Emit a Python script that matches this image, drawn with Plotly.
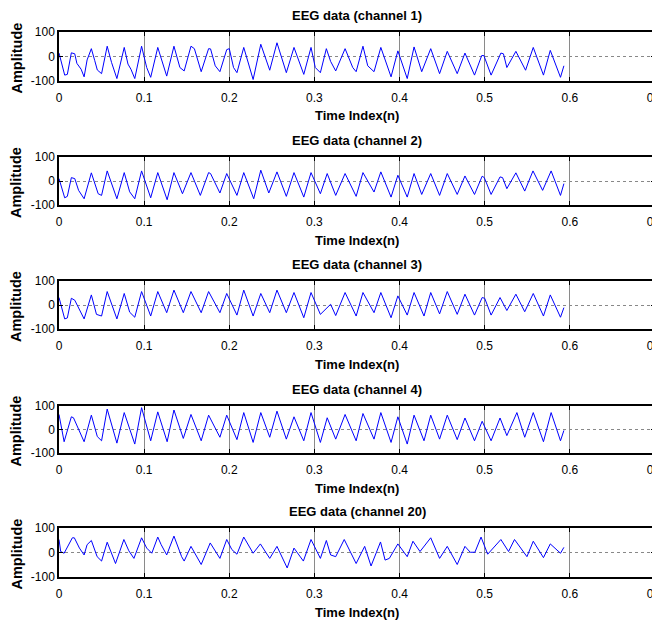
import plotly.graph_objects as go
from plotly.subplots import make_subplots

# ---------------- data ----------------
channel_names = ["EEG data (channel 1)", "EEG data (channel 2)", "EEG data (channel 3)",
                 "EEG data (channel 4)", "EEG data (channel 20)"]

x_ticks = [0, 0.1, 0.2, 0.3, 0.4, 0.5, 0.6, 0.7]
x_tick_labels = ["0", "0.1", "0.2", "0.3", "0.4", "0.5", "0.6", "0.7"]
y_ticks = [-100, 0, 100]
y_tick_labels = ["-100", "0", "100"]

ch1_t = [0, 0.0067, 0.0098, 0.0145, 0.0185, 0.021, 0.026, 0.0295, 0.033, 0.038, 0.042, 0.045, 0.05,
         0.0566, 0.0617, 0.068, 0.0766, 0.081, 0.0845, 0.089, 0.097, 0.103, 0.1077, 0.116, 0.1265,
         0.135, 0.142, 0.147, 0.155, 0.159, 0.167, 0.1757, 0.178, 0.1835, 0.189, 0.197, 0.2, 0.205,
         0.209, 0.217, 0.228, 0.237, 0.2475, 0.256, 0.267, 0.276, 0.2875, 0.296, 0.301, 0.307, 0.314,
         0.319, 0.325, 0.336, 0.345, 0.349, 0.357, 0.3626, 0.370, 0.378, 0.390, 0.398, 0.409, 0.417,
         0.426, 0.4366, 0.447, 0.456, 0.4677, 0.4768, 0.488, 0.4965, 0.499, 0.5075, 0.519, 0.522,
         0.526, 0.5366, 0.548, 0.557, 0.569, 0.577, 0.589, 0.593]
ch1_v = [14, -76, -73, 15, 11, -28, -52, -83, -14, 32, -17, -55, -70,
         42, -24, -90, 37, -31, -52, -90, 42, -45, -85, 37, -80,
         42, -45, -59, 42, 32, -62, 32, 31, -38, -62, 28, 32, -45,
         -66, 37, -94, 50, -56, 56, -66, 37, -73, 37, -45, -66, 32,
         -20, -59, 32, -45, -62, 42, -38, -62, 37, -83, 23, -90, 39,
         -62, 32, -70, 21, -70, 14, -76, 4, 4, -76, 14, 11,
         -45, 21, -56, 37, -76, 25, -85, -38]

ch2_t = [0, 0.0067, 0.0098, 0.0145, 0.0185, 0.023, 0.0295, 0.038, 0.046, 0.05, 0.0566, 0.068,
         0.0766, 0.083, 0.089, 0.097, 0.1077, 0.116, 0.127, 0.135, 0.145, 0.155, 0.166, 0.1757,
         0.178, 0.189, 0.197, 0.209, 0.217, 0.2287, 0.237, 0.2464, 0.256, 0.267, 0.276, 0.2875,
         0.296, 0.307, 0.315, 0.325, 0.336, 0.349, 0.357, 0.370, 0.378, 0.390, 0.398, 0.409, 0.417,
         0.426, 0.4366, 0.447, 0.456, 0.4677, 0.4768, 0.488, 0.497, 0.4995, 0.5075, 0.518, 0.521,
         0.526, 0.5366, 0.547, 0.5567, 0.568, 0.578, 0.589, 0.593]
ch2_v = [10, -70, -64, 14, 10, -39, -74, 34, -53, -60, 42, -74,
         35, -45, -74, 42, -70, 35, -78, 35, -53, 35, -60, 35,
         31, -50, 31, -60, 35, -74, 45, -50, 38, -64, 35, -67,
         35, -53, 31, -60, 31, -64, 35, -46, 38, -67, 24, -67, 31,
         -56, 31, -60, 31, -56, 21, -56, 20, 14, -56, 17, 14,
         -32, 34, -42, 42, -39, 42, -60, -11]

ch3_t = [0, 0.0067, 0.0098, 0.0145, 0.0185, 0.0295, 0.038, 0.044, 0.05, 0.0566, 0.068, 0.0766,
         0.083, 0.089, 0.097, 0.1077, 0.116, 0.1265, 0.135, 0.146, 0.155, 0.167, 0.1757, 0.189,
         0.197, 0.209, 0.217, 0.228, 0.237, 0.2475, 0.256, 0.267, 0.276, 0.2875, 0.296, 0.307,
         0.319, 0.325, 0.336, 0.349, 0.357, 0.370, 0.378, 0.390, 0.398, 0.409, 0.417, 0.4287,
         0.4366, 0.447, 0.456, 0.4677, 0.4768, 0.488, 0.497, 0.500, 0.5075, 0.518, 0.526, 0.5366,
         0.547, 0.557, 0.569, 0.577, 0.589, 0.593]
ch3_v = [31, -58, -54, 28, 20, -58, 42, -39, -46, 56, -58, 48,
         -30, -51, 56, -46, 56, -32, 62, -32, 56, -32, 56, -32,
         48, -42, 62, -46, 48, -32, 62, -32, 52, -53, 52, -39,
         3, -44, 52, -46, 52, -32, 52, -53, 38, -42, 52, -46,
         52, -37, 56, -39, 45, -42, 31, 28, -42, 31, -23, 45,
         -28, 48, -46, 42, -51, -11]

ch4_t = [0, 0.006, 0.0145, 0.017, 0.0295, 0.038, 0.045, 0.05, 0.0566, 0.068, 0.0766, 0.083,
         0.089, 0.097, 0.1077, 0.116, 0.127, 0.135, 0.146, 0.155, 0.167, 0.1757, 0.189, 0.197,
         0.209, 0.217, 0.228, 0.237, 0.2475, 0.256, 0.267, 0.276, 0.2875, 0.296, 0.307, 0.315,
         0.325, 0.336, 0.349, 0.357, 0.370, 0.378, 0.390, 0.398, 0.409, 0.417, 0.4287, 0.4366,
         0.447, 0.456, 0.4677, 0.4768, 0.488, 0.497, 0.5075, 0.518, 0.526, 0.5378, 0.547, 0.557,
         0.569, 0.578, 0.589, 0.593]
ch4_v = [64, -52, 54, 50, -52, 61, -30, -48, 87, -58, 72, 0,
         -62, 93, -48, 75, -52, 83, -38, 64, -48, 61, -33, 61,
         -43, 72, -55, 72, -33, 78, -41, 54, -48, 72, -55, 50,
         -41, 64, -48, 68, -41, 72, -55, 54, -62, 61, -48, 61,
         -41, 61, -43, 49, -48, 35, -48, 49, -26, 72, -33, 72,
         -52, 72, -48, -4]

ch20_t = [0, 0.002, 0.006, 0.0157, 0.018, 0.024, 0.0295, 0.033, 0.038, 0.0448, 0.05, 0.0566,
          0.0664, 0.0762, 0.082, 0.088, 0.097, 0.103, 0.109, 0.116, 0.12, 0.1265, 0.135, 0.144,
          0.147, 0.155, 0.167, 0.1776, 0.189, 0.197, 0.203, 0.209, 0.217, 0.223, 0.228, 0.2365,
          0.2475, 0.256, 0.268, 0.276, 0.287, 0.296, 0.307, 0.314, 0.319, 0.325, 0.335, 0.349,
          0.359, 0.3665, 0.3776, 0.383, 0.388, 0.398, 0.409, 0.4157, 0.424, 0.4366, 0.447, 0.456,
          0.4677, 0.4768, 0.483, 0.4885, 0.4957, 0.5035, 0.519, 0.528, 0.535, 0.5496, 0.557,
          0.569, 0.577, 0.589, 0.593]
ch20_v = [53, 4, -3, 60, 60, 18, -10, 32, 49, -17, -35, 42,
          -45, 53, 7, -24, 60, 18, -3, 63, 32, -10, 67, -17,
          -35, 25, -49, 39, -24, 53, 12, -7, 63, 25, -3, 35,
          -24, 25, -63, 18, -35, 53, -24, 49, -10, -17, 53, -45,
          25, -55, 43, -31, -24, 35, -17, 46, 4, 60, -24, 25,
          -49, 25, 1, 1, 63, -7, 53, 4, 53, -17, 46,
          -21, 35, -3, 21]

series_t = [ch1_t, ch2_t, ch3_t, ch4_t, ch20_t]
series_v = [ch1_v, ch2_v, ch3_v, ch4_v, ch20_v]

# ---------------- layout constants ----------------
# the page body adds an 8px margin, so the figure is 8px smaller than the window
W, H = 652, 615
# panel top / bottom in pixels (from the top of the figure)
panel_px = [(24, 73), (149, 197), (273, 321), (398, 445), (520, 569)]
FONT = "Liberation Sans, Arial, sans-serif"

fig = make_subplots(rows=5, cols=1)

for i, (t, v) in enumerate(zip(series_t, series_v)):
    fig.add_trace(go.Scatter(x=t, y=v, mode="lines",
                             line=dict(color="#0000ff", width=1),
                             showlegend=False, hoverinfo="skip"),
                  row=i + 1, col=1)

annotations = []
for i, (top, bot) in enumerate(panel_px):
    d_top = 1 - top / H
    d_bot = 1 - bot / H
    xa = "xaxis" if i == 0 else f"xaxis{i + 1}"
    ya = "yaxis" if i == 0 else f"yaxis{i + 1}"
    fig.layout[ya].update(domain=[d_bot, d_top])
    fig.layout[xa].update(domain=[0, 1])
    # title
    annotations.append(dict(text="<b>%s</b>" % channel_names[i], xref="paper", yref="paper",
                            x=0.5, y=d_top, yshift=16.5, xanchor="center", yanchor="middle",
                            showarrow=False, font=dict(family=FONT, size=13, color="black")))
    # x-axis title
    annotations.append(dict(text="<b>Time Index(n)</b>", xref="paper", yref="paper",
                            x=0.5, y=d_bot, yshift=-35, xanchor="center", yanchor="middle",
                            showarrow=False, font=dict(family=FONT, size=13, color="black")))
    # y-axis title
    annotations.append(dict(text="<b>Amplitude</b>", xref="paper", yref="paper",
                            x=0, xshift=-43, y=(d_top + d_bot) / 2, yshift=-2,
                            xanchor="center", yanchor="middle", textangle=-90,
                            showarrow=False, font=dict(family=FONT, size=14.5, color="black")))

fig.update_xaxes(range=[0, 0.7], tickvals=x_ticks, ticktext=x_tick_labels,
                 ticks="inside", ticklen=4, tickcolor="black", tickwidth=1,
                 showline=True, linecolor="black", linewidth=1.5, mirror="ticks",
                 showgrid=True, gridcolor="#8a8a8a", gridwidth=1, zeroline=False,
                 tickfont=dict(family=FONT, size=12, color="black"),
                 ticklabelstandoff=5, ticklabeloverflow="allow")
fig.update_yaxes(range=[-100, 100], tickvals=y_ticks, ticktext=y_tick_labels,
                 ticks="inside", ticklen=4, tickcolor="black", tickwidth=1,
                 showline=True, linecolor="black", linewidth=1.5, mirror="ticks",
                 showgrid=True, gridcolor="#888888", gridwidth=1, griddash="dot",
                 zeroline=False,
                 tickfont=dict(family=FONT, size=12, color="black"))

fig.update_layout(width=W, height=H, margin=dict(l=51, r=5, t=0, b=0, autoexpand=False),
                  paper_bgcolor="white", plot_bgcolor="white",
                  annotations=annotations, showlegend=False)

fig.write_html("out.html")
